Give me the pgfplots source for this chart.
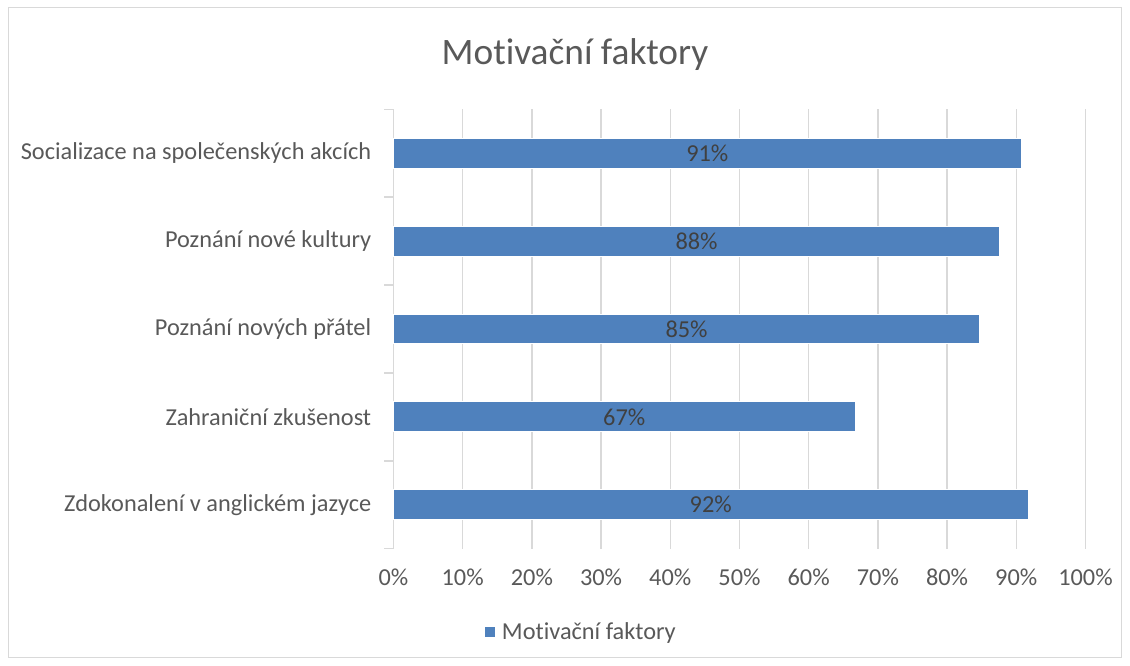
\documentclass[border=0pt]{standalone}
\usepackage{fontspec}
\setmainfont{Carlito}[Ligatures=NoCommon]
\usepackage{pgfplots}
\pgfplotsset{compat=1.18}

\definecolor{barblue}{HTML}{4F81BD}
\definecolor{gridgray}{HTML}{D9D9D9}
\definecolor{textgray}{HTML}{595959}
\definecolor{labelgray}{HTML}{404040}

\begin{document}
\begin{tikzpicture}[x=0.75pt,y=0.75pt]
% page = 1130 x 666 px, 1 px = 0.75pt
\useasboundingbox (0,0) rectangle (1130,666);
\draw[line width=0.75pt, gridgray] (8,8) rectangle (1121,658);
\node[font=\fontsize{28}{32}\selectfont, text=textgray] at (575,611) {Motivační faktory};

\begin{axis}[
    at={(295.1pt,88pt)}, anchor=south west,
    scale only axis,
    width=519pt, height=329.5pt,
    xmin=0, xmax=100,
    ymin=-0.5, ymax=4.5,
    axis y line*=left, axis x line*=bottom,
    x axis line style={draw=none},
    y axis line style={draw=gridgray, line width=1.1pt},
    /pgf/number format/assume math mode=true,
    xtick={0,10,...,100},
    xticklabel={\pgfmathprintnumber{\tick}\%},
    xmajorgrids,
    grid style={gridgray, line width=1.1pt},
    ytick={0,1,2,3,4},
    yticklabels={Zdokonalení v anglickém jazyce, Zahraniční zkušenost, Poznání nových přátel, Poznání nové kultury\hspace{4.5pt}, Socializace na společenských akcích},
    tick style={draw=gridgray, line width=1.1pt},
    major tick length=0pt,
    tick align=outside,
    extra y ticks={-0.5,0.5,1.5,2.5,3.5,4.5},
    extra y tick labels={},
    extra y tick style={major tick length=6.75pt},
    tick label style={font=\fontsize{18.25}{21}\selectfont, text=textgray},
    xticklabel style={inner sep=0pt, anchor=north, yshift=-15pt},
    yticklabel style={inner sep=0pt, anchor=east, xshift=-16.5pt},
    legend style={at={(0.272,-0.19)}, anchor=center, draw=none,
        font=\fontsize{18.25}{21}\selectfont, text=textgray},
    clip=false,
]
\addplot[xbar, bar width=0.34, fill=barblue, draw=white, line width=0.75pt,
    point meta=explicit,
    visualization depends on={rawx \as \rawx},
    nodes near coords={\pgfmathprintnumber[fixed,precision=0]{\pgfplotspointmeta}\%},
    every node near coord/.append style={anchor=center, inner sep=0pt,
        xshift=-\rawx*2.595pt,
        font=\fontsize{18.25}{21}\selectfont, text=labelgray},
    legend image code/.code={\fill[barblue] (0pt,-3.5pt) rectangle (7pt,3.5pt);
        \path (10pt,0pt);},
] coordinates {
    (91.7,0) [92]
    (66.7,1) [67]
    (84.7,2) [85]
    (87.6,3) [88]
    (90.7,4) [91]
};
\addlegendentry{Motivační faktory}
\end{axis}
\end{tikzpicture}
\end{document}
